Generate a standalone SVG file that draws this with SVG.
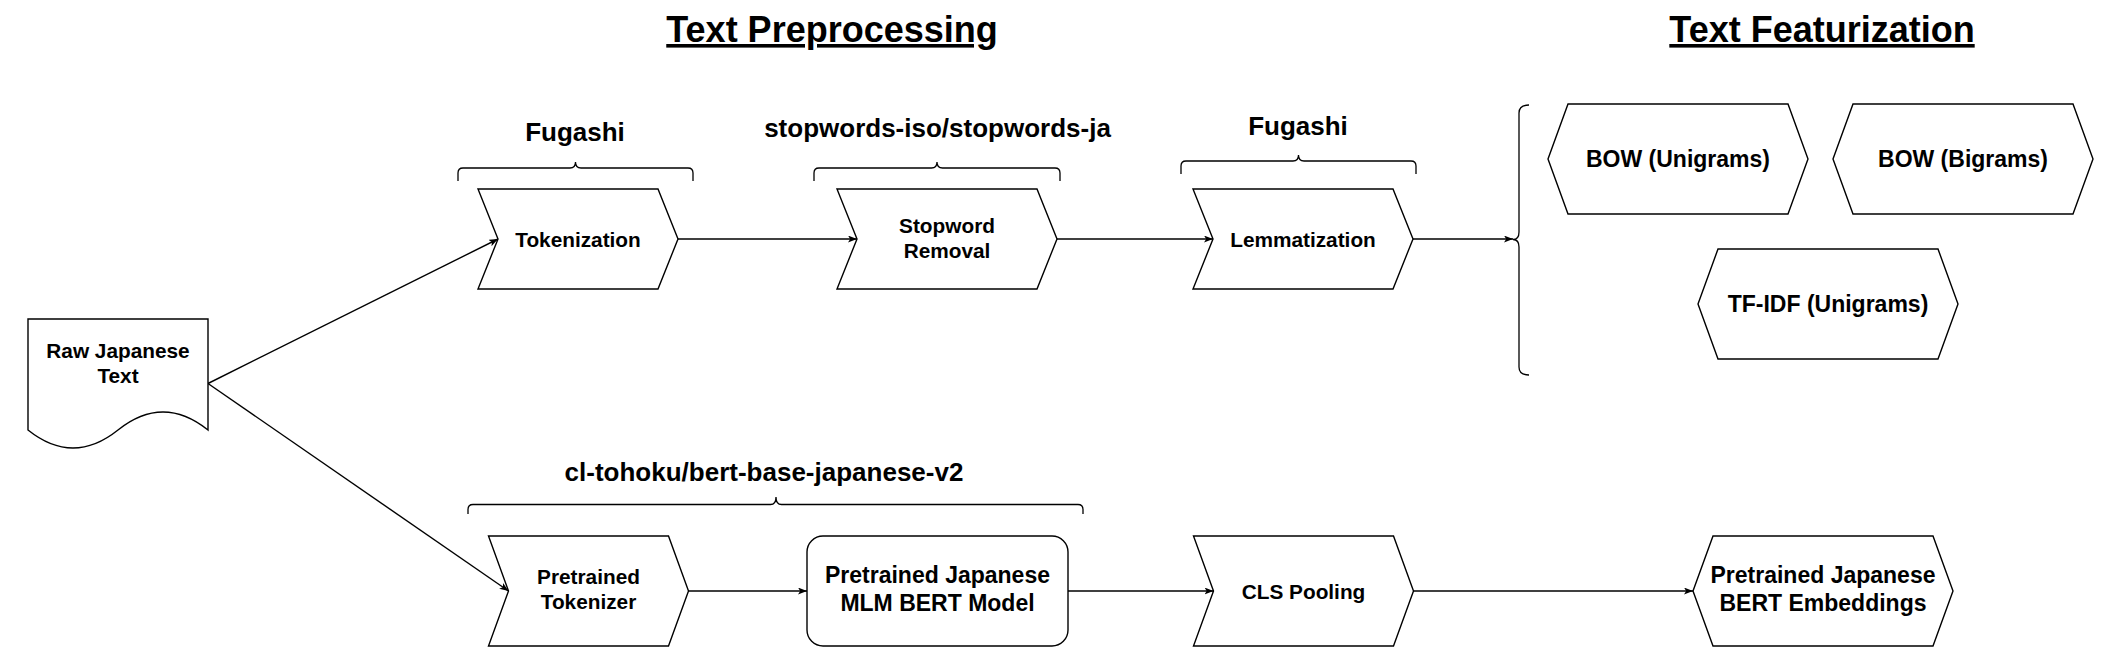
<svg xmlns="http://www.w3.org/2000/svg" width="2123" height="667" viewBox="0 0 2123 667">
<defs>
<style>
text{font-family:"Liberation Sans",Arial,Helvetica,sans-serif;font-weight:bold;fill:#000;text-anchor:middle}
.title{font-size:36px;text-decoration:underline}
.lbl{font-size:26px}
.n{font-size:20.8px}
.nl{font-size:23px}
.shape{fill:#fff;stroke:#000;stroke-width:1.4}
.brace{fill:none;stroke:#000;stroke-width:1.3}
.edge{fill:none;stroke:#000;stroke-width:1.4}
</style>
<marker id="arr" markerUnits="userSpaceOnUse" markerWidth="10" markerHeight="8" refX="9" refY="3.5" orient="auto" viewBox="0 0 10 8">
<path d="M0,0 L9,3.5 L0,7 L2.2,3.5 Z" fill="#000"/>
</marker>
</defs>
<rect width="2123" height="667" fill="#fff"/>

<g id="titles">
<text class="title" x="832" y="42">Text Preprocessing</text>
<text class="title" x="1822" y="42">Text Featurization</text>
</g>

<g id="braces">
<g id="brace-fugashi-1">
<text class="lbl" x="575" y="141">Fugashi</text>
<path class="brace" d="M458,181 L458,173 Q458,168 463,168 L570,168 Q575.5,168 575.5,162 Q575.5,168 581,168 L688,168 Q693,168 693,173 L693,181"/>
</g>
<g id="brace-stopwords">
<text class="lbl" x="937.5" y="137">stopwords-iso/stopwords-ja</text>
<path class="brace" d="M814,181 L814,173 Q814,168 819,168 L931.5,168 Q937,168 937,162 Q937,168 942.5,168 L1055,168 Q1060,168 1060,173 L1060,181"/>
</g>
<g id="brace-fugashi-2">
<text class="lbl" x="1298" y="135">Fugashi</text>
<path class="brace" d="M1181,174 L1181,166 Q1181,161 1186,161 L1293,161 Q1298.5,161 1298.5,155 Q1298.5,161 1304,161 L1411,161 Q1416,161 1416,166 L1416,174"/>
</g>
<g id="brace-bert">
<text class="lbl" x="764" y="481">cl-tohoku/bert-base-japanese-v2</text>
<path class="brace" d="M468,514 L468,509.5 Q468,504.5 473,504.5 L770.5,504.5 Q776,504.5 776,497 Q776,504.5 781.5,504.5 L1078,504.5 Q1083,504.5 1083,509.5 L1083,514"/>
</g>
<g id="brace-features">
<path class="brace" d="M1529,105 Q1519,105 1519,113 L1519,232 Q1519,239.5 1513,239.5 Q1519,239.5 1519,247 L1519,367 Q1519,375 1529,375"/>
</g>
</g>

<g id="connectors">
<path class="edge" d="M208,383.5 L498,239" marker-end="url(#arr)"/>
<path class="edge" d="M208,383.5 L508.5,591" marker-end="url(#arr)"/>
<path class="edge" d="M678,239 L857,239" marker-end="url(#arr)"/>
<path class="edge" d="M1057,239 L1213,239" marker-end="url(#arr)"/>
<path class="edge" d="M1413,239 L1513,239" marker-end="url(#arr)"/>
<path class="edge" d="M688.5,591 L807,591" marker-end="url(#arr)"/>
<path class="edge" d="M1068,591 L1213.5,591" marker-end="url(#arr)"/>
<path class="edge" d="M1413.5,591 L1693,591" marker-end="url(#arr)"/>
</g>

<g id="raw-text">
<path class="shape" d="M28,319 L208,319 L208,430 Q163,394 118,430 Q73,466 28,430 Z"/>
<text class="n" x="118" y="358">Raw Japanese</text>
<text class="n" x="118" y="383">Text</text>
</g>

<g id="tokenization">
<path class="shape" d="M478,189 L658,189 L678,239 L658,289 L478,289 L498,239 Z"/>
<text class="n" x="578" y="246.5">Tokenization</text>
</g>

<g id="stopword-removal">
<path class="shape" d="M837,189 L1037,189 L1057,239 L1037,289 L837,289 L857,239 Z"/>
<text class="n" x="947" y="232.5">Stopword</text>
<text class="n" x="947" y="257.5">Removal</text>
</g>

<g id="lemmatization">
<path class="shape" d="M1193,189 L1393,189 L1413,239 L1393,289 L1193,289 L1213,239 Z"/>
<text class="n" x="1303" y="246.5">Lemmatization</text>
</g>

<g id="bow-unigrams">
<path class="shape" d="M1568,104 L1788,104 L1808,159 L1788,214 L1568,214 L1548,159 Z"/>
<text class="nl" x="1678" y="167">BOW (Unigrams)</text>
</g>

<g id="bow-bigrams">
<path class="shape" d="M1853,104 L2073,104 L2093,159 L2073,214 L1853,214 L1833,159 Z"/>
<text class="nl" x="1963" y="167">BOW (Bigrams)</text>
</g>

<g id="tfidf-unigrams">
<path class="shape" d="M1718,249 L1938,249 L1958,304 L1938,359 L1718,359 L1698,304 Z"/>
<text class="nl" x="1828" y="312">TF-IDF (Unigrams)</text>
</g>

<g id="pretrained-tokenizer">
<path class="shape" d="M488.5,536 L668.5,536 L688.5,591 L668.5,646 L488.5,646 L508.5,591 Z"/>
<text class="n" x="588.5" y="583.5">Pretrained</text>
<text class="n" x="588.5" y="608.5">Tokenizer</text>
</g>

<g id="mlm-bert">
<rect class="shape" x="807" y="536" width="261" height="110" rx="16" ry="16"/>
<text class="nl" x="937.5" y="583">Pretrained Japanese</text>
<text class="nl" x="937.5" y="610.5">MLM BERT Model</text>
</g>

<g id="cls-pooling">
<path class="shape" d="M1193.5,536 L1393.5,536 L1413.5,591 L1393.5,646 L1193.5,646 L1213.5,591 Z"/>
<text class="n" x="1303.5" y="598.5">CLS Pooling</text>
</g>

<g id="bert-embeddings">
<path class="shape" d="M1713,536 L1933,536 L1953,591 L1933,646 L1713,646 L1693,591 Z"/>
<text class="nl" x="1823" y="583">Pretrained Japanese</text>
<text class="nl" x="1823" y="610.5">BERT Embeddings</text>
</g>
</svg>
